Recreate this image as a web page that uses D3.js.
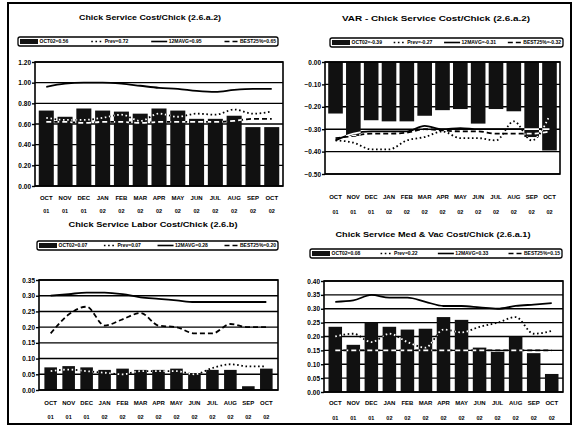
<!DOCTYPE html>
<html>
<head>
<meta charset="utf-8">
<script src="https://cdn.jsdelivr.net/npm/d3@7"></script>
<style>
  body { margin: 0; background: #fff; }
  svg { display: block; font-family: "Liberation Sans", Arial, sans-serif; font-weight: bold; }
</style>
</head>
<body>
<svg id="chart" width="574" height="428"></svg>
<script>
// months along the x axis (two-line labels: month / year)
const months = ["OCT","NOV","DEC","JAN","FEB","MAR","APR","MAY","JUN","JUL","AUG","SEP","OCT"];
const years  = ["01","01","01","02","02","02","02","02","02","02","02","02","02"];

// Chick Service Cost/Chick (2.6.a.2)
const costBars = [0.73,0.67,0.75,0.73,0.72,0.70,0.75,0.73,0.65,0.65,0.68,0.57,0.57];
const costPrev = [0.66,0.64,0.64,0.66,0.69,0.63,0.70,0.67,0.70,0.69,0.74,0.70,0.72];
const costAvg  = [0.96,0.99,1.00,1.00,0.99,0.97,0.95,0.94,0.92,0.91,0.93,0.94,0.94];
const costBest = [0.62,0.62,0.61,0.62,0.62,0.61,0.62,0.62,0.62,0.62,0.63,0.65,0.65];
const costTicks = [0, 0.2, 0.4, 0.6, 0.8, 1.0, 1.2];
const costLegend = ["OCT02=0.56", "Prev=0.72", "12MAVG=0.95", "BEST25%=0.65"];

// VAR - Chick Service Cost/Chick (2.6.a.2)
const varBars = [-0.23,-0.33,-0.26,-0.265,-0.265,-0.24,-0.215,-0.21,-0.275,-0.21,-0.22,-0.335,-0.395];
const varPrev = [-0.35,-0.36,-0.39,-0.39,-0.35,-0.335,-0.31,-0.34,-0.34,-0.35,-0.265,-0.35,-0.24];
const varAvg  = [-0.35,-0.32,-0.31,-0.31,-0.31,-0.285,-0.30,-0.295,-0.30,-0.30,-0.30,-0.30,-0.30];
const varBest = [-0.34,-0.33,-0.32,-0.32,-0.315,-0.30,-0.305,-0.31,-0.31,-0.32,-0.32,-0.32,-0.31];
const varTicks = [-0.5, -0.4, -0.3, -0.2, -0.1, 0];
const varLegend = ["OCT02=-0.39", "Prev=-0.27", "12MAVG=-0.31", "BEST25%=-0.32"];

// Chick Service Labor Cost/Chick (2.6.b)
const laborBars = [0.072,0.076,0.072,0.064,0.068,0.064,0.064,0.068,0.054,0.064,0.064,0.012,0.068];
const laborPrev = [0.060,0.065,0.060,0.055,0.050,0.060,0.060,0.060,0.050,0.070,0.082,0.075,0.075];
const laborAvg  = [0.30,0.305,0.31,0.31,0.305,0.295,0.29,0.285,0.28,0.28,0.28,0.28,0.28];
const laborBest = [0.18,0.24,0.265,0.205,0.225,0.245,0.205,0.20,0.18,0.18,0.21,0.20,0.20];
const laborTicks = [0, 0.05, 0.10, 0.15, 0.20, 0.25, 0.30, 0.35];
const laborLegend = ["OCT02=0.07", "Prev=0.07", "12MAVG=0.28", "BEST25%=0.20"];

// Chick Service Med & Vac Cost/Chick (2.6.a.1)
const medBars = [0.235,0.17,0.25,0.235,0.225,0.228,0.27,0.26,0.16,0.145,0.20,0.14,0.065];
const medPrev = [0.20,0.21,0.18,0.21,0.18,0.16,0.225,0.215,0.235,0.25,0.27,0.21,0.22];
const medAvg  = [0.325,0.33,0.35,0.34,0.34,0.325,0.31,0.31,0.305,0.30,0.31,0.315,0.32];
const medBest = [0.15,0.15,0.15,0.15,0.15,0.15,0.15,0.15,0.15,0.15,0.15,0.15,0.15];
const medTicks = [0, 0.05, 0.10, 0.15, 0.20, 0.25, 0.30, 0.35, 0.40];
const medLegend = ["OCT02=0.08", "Prev=0.22", "12MAVG=0.33", "BEST25%=0.15"];

const keys = months.map((m, i) => m + years[i]);

const svg = d3.select('#chart');

// outer frame round all four charts
svg.append('rect')
  .attr('x', 8).attr('y', 3)
  .attr('width', 563).attr('height', 421)
  .attr('fill', 'none').attr('stroke', '#000').attr('stroke-width', 2);

const panels = [
  { id: 'tl', title: 'Chick Service Cost/Chick (2.6.a.2)', titleX: 150, titleY: 20, titleW: 142,
    legendBox: [18, 37, 260, 9], legend: costLegend,
    left: 35, top: 62, right: 283, bottom: 186, padding: 0.2,
    domain: [0, 1.2], ticks: costTicks, labelDy: [12, 25],
    bars: costBars, prev: costPrev, avg: costAvg, best: costBest },
  { id: 'tr', title: 'VAR - Chick Service Cost/Chick (2.6.a.2)', titleX: 436, titleY: 21, titleW: 188,
    legendBox: [330, 38, 233, 9], legend: varLegend,
    left: 325, top: 62, right: 560, bottom: 174, padding: 0.18,
    domain: [-0.5, 0], ticks: varTicks, labelDy: [23, 38],
    bars: varBars, prev: varPrev, avg: varAvg, best: varBest },
  { id: 'bl', title: 'Chick Service Labor Cost/Chick (2.6.b)', titleX: 153, titleY: 227, titleW: 169,
    legendBox: [37, 241, 241, 9], legend: laborLegend,
    left: 39, top: 280, right: 278, bottom: 390, padding: 0.3,
    domain: [0, 0.35], ticks: laborTicks, labelDy: [13, 27],
    bars: laborBars, prev: laborPrev, avg: laborAvg, best: laborBest },
  { id: 'br', title: 'Chick Service Med & Vac Cost/Chick (2.6.a.1)', titleX: 433, titleY: 237, titleW: 195,
    legendBox: [310, 249, 252, 9], legend: medLegend,
    left: 324, top: 281, right: 563, bottom: 392, padding: 0.25,
    domain: [0, 0.4], ticks: medTicks, labelDy: [11, 26],
    bars: medBars, prev: medPrev, avg: medAvg, best: medBest }
];

const lineStyles = {
  prev: '1.6,2.6',
  avg: null,
  best: '5,3'
};

function drawPanel(p) {
  const g = svg.append('g').attr('class', 'panel-' + p.id);

  // Title
  g.append('text')
    .attr('x', p.titleX).attr('y', p.titleY)
    .attr('text-anchor', 'middle')
    .attr('font-size', 8)
    .attr('textLength', p.titleW)
    .attr('lengthAdjust', 'spacingAndGlyphs')
    .text(p.title);

  // Scales
  const x = d3.scaleBand().domain(keys).range([p.left, p.right]).padding(p.padding);
  const y = d3.scaleLinear().domain(p.domain).range([p.bottom, p.top]);

  // Horizontal gridlines
  g.append('g').selectAll('line')
    .data(p.ticks)
    .join('line')
    .attr('x1', p.left).attr('x2', p.right)
    .attr('y1', d => y(d)).attr('y2', d => y(d))
    .attr('stroke', '#000').attr('stroke-width', 1.4);

  // Bars
  const barY = d => y(Math.max(0, d));
  const barH = d => Math.abs(y(d) - y(0));
  g.append('g').selectAll('rect')
    .data(p.bars)
    .join('rect')
    .attr('x', (d, i) => x(keys[i]))
    .attr('y', barY)
    .attr('width', x.bandwidth())
    .attr('height', barH)
    .attr('fill', '#111');

  // clip for drawing the lines white where they cross the bars
  const clip = svg.append('clipPath').attr('id', 'bars-' + p.id);
  clip.selectAll('rect')
    .data(p.bars)
    .join('rect')
    .attr('x', (d, i) => x(keys[i]))
    .attr('y', barY)
    .attr('width', x.bandwidth())
    .attr('height', barH);

  const line = d3.line()
    .x((d, i) => x(keys[i]) + x.bandwidth() / 2)
    .y(d => y(d))
    .curve(d3.curveMonotoneX);

  ['best', 'avg', 'prev'].forEach(k => {
    g.append('path')
      .datum(p[k])
      .attr('d', line)
      .attr('fill', 'none')
      .attr('stroke', '#000')
      .attr('stroke-width', 1.8)
      .attr('stroke-dasharray', lineStyles[k]);
    g.append('path')
      .datum(p[k])
      .attr('d', line)
      .attr('fill', 'none')
      .attr('stroke', '#fff')
      .attr('stroke-width', 1.8)
      .attr('stroke-dasharray', lineStyles[k])
      .attr('clip-path', `url(#bars-${p.id})`);
  });

  // Plot border
  g.append('rect')
    .attr('x', p.left).attr('y', p.top)
    .attr('width', p.right - p.left).attr('height', p.bottom - p.top)
    .attr('fill', 'none').attr('stroke', '#000').attr('stroke-width', 1.6);

  // Y axis
  const yAxisG = g.append('g')
    .attr('transform', `translate(${p.left},0)`)
    .call(d3.axisLeft(y).tickValues(p.ticks).tickFormat(d3.format('.2f')).tickSize(3).tickSizeOuter(0).tickPadding(1));
  yAxisG.select('.domain').remove();
  yAxisG.attr('font-family', null).attr('font-size', 6.5);
  yAxisG.selectAll('.tick line').attr('stroke-width', 1.4);

  // X axis: month over year
  const xAxisG = g.append('g')
    .attr('transform', `translate(0,${p.bottom})`)
    .call(d3.axisBottom(x).tickSize(0).tickFormat(k => months[keys.indexOf(k)]));
  xAxisG.select('.domain').remove();
  xAxisG.attr('font-family', null).attr('font-size', 6);
  xAxisG.selectAll('.tick text').attr('y', p.labelDy[0]).attr('dy', '0.35em');
  xAxisG.selectAll('.tick').append('text')
    .attr('fill', '#000')
    .attr('y', p.labelDy[1]).attr('dy', '0.35em')
    .attr('font-size', 5.5)
    .text(k => years[keys.indexOf(k)]);

  // Legend: measure the labels, then spread the four items across the box
  const [lx, ly, lw, lh] = p.legendBox;
  const lg = g.append('g');
  lg.append('rect')
    .attr('x', lx).attr('y', ly)
    .attr('width', lw).attr('height', lh)
    .attr('rx', 2)
    .attr('fill', '#fff').attr('stroke', '#000').attr('stroke-width', 1.3);
  const kinds = ['bar', 'prev', 'avg', 'best'];
  const sampleW = [18, 12, 16, 14];
  const cy = ly + lh / 2;
  const texts = kinds.map((k, i) => lg.append('text')
    .attr('y', cy).attr('dy', '0.35em')
    .attr('font-size', 5)
    .text(p.legend[i]));
  const textW = texts.map(t => t.node().getComputedTextLength());
  const used = d3.sum(kinds, (k, i) => sampleW[i] + 1.5 + textW[i]);
  const gap = (lw - 4 - used) / 3;
  let cx = lx + 2;
  kinds.forEach((k, i) => {
    const sw = sampleW[i];
    if (k === 'bar') {
      lg.append('rect')
        .attr('x', cx).attr('y', cy - 2.5)
        .attr('width', sw).attr('height', 5)
        .attr('fill', '#111');
    } else {
      lg.append('line')
        .attr('x1', cx).attr('x2', cx + sw)
        .attr('y1', cy).attr('y2', cy)
        .attr('stroke', '#000').attr('stroke-width', 1.6)
        .attr('stroke-dasharray', lineStyles[k]);
    }
    texts[i].attr('x', cx + sw + 1.5);
    cx += sw + 1.5 + textW[i] + gap;
  });
}

panels.forEach(drawPanel);
</script>
</body>
</html>
